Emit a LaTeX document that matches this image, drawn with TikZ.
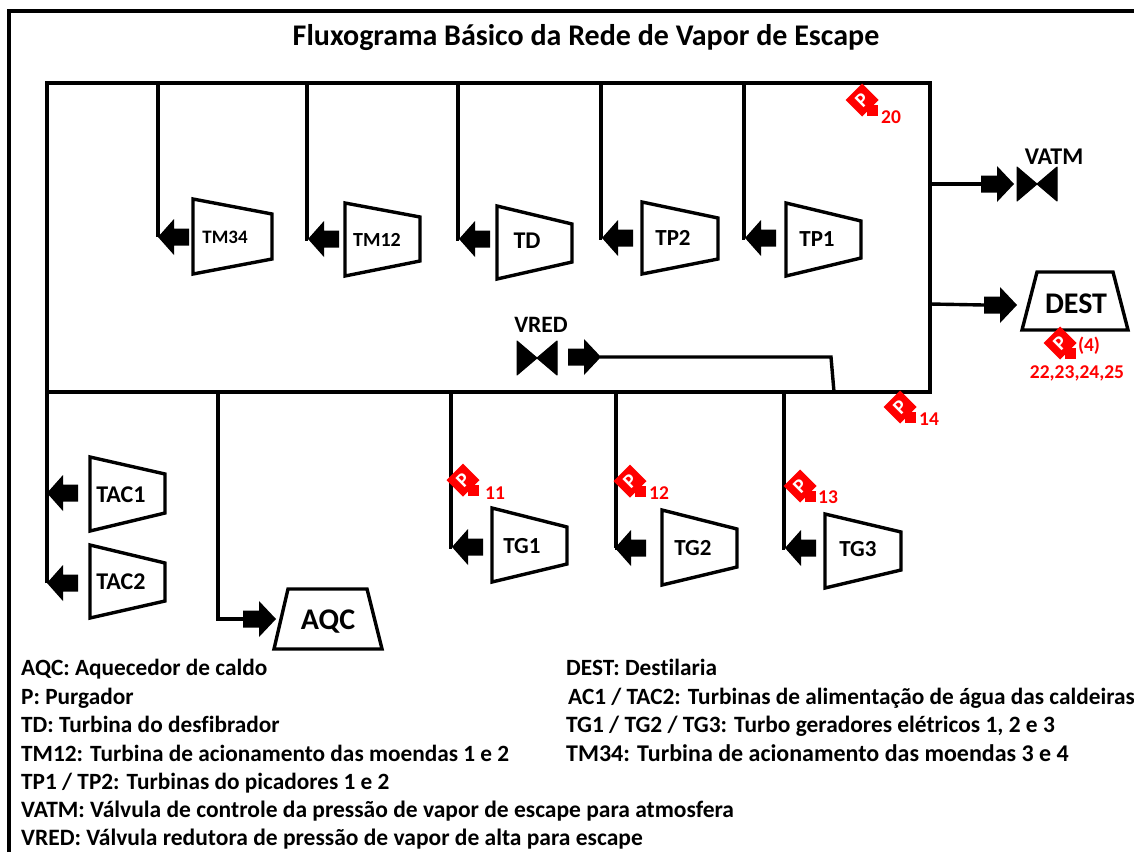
\documentclass[tikz,border=0pt]{standalone}
\usepackage{fontspec}
\setmainfont[Ligatures=NoCommon]{Carlito}
\newcommand{\fs}[1]{\fontsize{#1}{#1}\selectfont\bfseries}
\tikzset{
  pipe/.style={line width=3.4pt,line join=miter,line cap=butt},
  mach/.style={line width=3.4pt,line join=miter,fill=white},
  lbl/.style={inner sep=0pt,text=black},
  legend/.style={inner sep=0pt,anchor=base west,font=\fs{23.3}},
  num/.style={inner sep=0pt,text=red,font=\fs{19.5}}
}
\newcommand{\turb}[9]{% name x1 x2 lt lb rt rb lx ly
  \draw[mach] (#2,#4)--(#3,#6)--(#3,#7)--(#2,#5)--cycle;
  \coordinate (#1) at (#8,#9);}
\newcommand{\blockL}[3]{%
  \coordinate (#1) at (#2,#3);
  \fill ([xshift=31pt,yshift=8.5pt]#1)--([xshift=16pt,yshift=8.5pt]#1)--([xshift=16pt,yshift=18pt]#1)--(#1)--([xshift=16pt,yshift=-18pt]#1)--([xshift=16pt,yshift=-8.5pt]#1)--([xshift=31pt,yshift=-8.5pt]#1)--cycle;}
\newcommand{\blockR}[3]{%
  \coordinate (#1) at (#2,#3);
  \fill ([yshift=8.5pt]#1)--([xshift=16pt,yshift=8.5pt]#1)--([xshift=16pt,yshift=18pt]#1)--([xshift=33pt]#1)--([xshift=16pt,yshift=-18pt]#1)--([xshift=16pt,yshift=-8.5pt]#1)--([yshift=-8.5pt]#1)--cycle;}
\newcommand{\valve}[3]{%
  \coordinate (#1) at (#2,#3);
  \filldraw[line width=1pt,line join=round] ([xshift=-20pt,yshift=17pt]#1)--(#1)--([xshift=-20pt,yshift=-17pt]#1)--cycle;
  \filldraw[line width=1pt,line join=round] ([xshift=20pt,yshift=17pt]#1)--(#1)--([xshift=20pt,yshift=-17pt]#1)--cycle;}
\newcommand{\purg}[3]{%
  \coordinate (#1) at (#2,#3);
  \fill[red] ([yshift=16.5pt]#1)--([xshift=16.5pt]#1)--([yshift=-16.5pt]#1)--([xshift=-16.5pt]#1)--cycle;
  \fill[red] ([xshift=5pt,yshift=-5pt]#1) rectangle ([xshift=16pt,yshift=-16pt]#1);
  \node[inner sep=0pt,text=white,rotate=45,font=\fs{20}] at (#1) {P};}
\begin{document}
\begin{tikzpicture}[x=1pt,y=-1pt]
\useasboundingbox (0,0) rectangle (1134,852);
% outer frame
\coordinate (fa) at (9,852);
\coordinate (fb) at (9,11);
\coordinate (fc) at (1134,11);
\draw[pipe] (fa)--(fb)--(fc);
\node[lbl,font=\fs{30}] (title) at (586,38) {Fluxograma Básico da Rede de Vapor de Escape};
% machines
\turb{tm34}{193}{272}{199}{274}{214}{259}{225}{237}
\node[lbl,font=\fs{19}] (ltm34) at (tm34) {TM34};
\turb{tm12}{345}{420}{203}{276}{217}{261}{377}{240}
\node[lbl,font=\fs{20}] (ltm12) at (tm12) {TM12};
\turb{td}{497}{572}{206}{279}{224}{262}{527}{241}
\node[lbl,font=\fs{24}] (ltd) at (td) {TD};
\turb{tp2}{642}{718}{202}{274}{218}{259}{673}{238}
\node[lbl,font=\fs{23}] (ltp2) at (tp2) {TP2};
\turb{tp1}{786}{861}{203}{276}{221}{258}{817}{239}
\node[lbl,font=\fs{23}] (ltp1) at (tp1) {TP1};
\turb{tac1}{90}{165}{457}{531}{474}{513}{121}{495}
\node[lbl,font=\fs{24}] (ltac1) at (tac1) {TAC1};
\turb{tac2}{90}{165}{545}{618}{563}{601}{121}{582}
\node[lbl,font=\fs{24}] (ltac2) at (tac2) {TAC2};
\turb{tg1}{492}{567}{508}{582}{527}{564}{522}{546}
\node[lbl,font=\fs{23}] (ltg1) at (tg1) {TG1};
\turb{tg2}{662}{737}{510}{585}{529}{567}{693}{548}
\node[lbl,font=\fs{23}] (ltg2) at (tg2) {TG2};
\turb{tg3}{825}{901}{514}{588}{532}{570}{858}{549}
\node[lbl,font=\fs{23}] (ltg3) at (tg3) {TG3};
% AQC, DEST
\draw[mach] (288,589)--(367,589)--(382,649)--(274,649)--cycle;
\node[lbl,font=\fs{30}] (aqc) at (328,622) {AQC};
\draw[mach] (1037,272)--(1113,272)--(1128,330)--(1022,330)--cycle;
\node[lbl,font=\fs{30}] (dest) at (1076,304) {DEST};
% block arrows
\blockL{atm34}{158}{237}\blockL{atm12}{308}{239}\blockL{atd}{459}{239}\blockL{atp2}{602}{238}\blockL{atp1}{745}{238}
\blockL{atac1}{47}{493}\blockL{atac2}{47}{583}
\blockL{atg1}{452}{547}\blockL{atg2}{615}{548}\blockL{atg3}{785}{548}
\blockR{avatm}{981}{184}\blockR{adest}{984}{305}\blockR{avred}{568}{357}\blockR{aaqc}{243}{619}
\coordinate (avredend) at (600,357);
% valves
\valve{vatm}{1037}{184}
\valve{vred}{537}{358}
\node[lbl,font=\fs{24}] (lvatm) at (1054,157) {VATM};
\node[lbl,font=\fs{23.5}] (lvred) at (541,325) {VRED};
% main header
\coordinate (tl) at (47,83);\coordinate (tr) at (930,83);\coordinate (br) at (930,392);\coordinate (bl) at (47,392);
\draw[pipe] (atac2)--(tl)--(tr)--(br)--(bl);
\draw[pipe] (158,83)--(atm34);
\draw[pipe] (307,83)--(307,239)--(atm12);
\draw[pipe] (458,83)--(458,239)--(atd);
\draw[pipe] (601,83)--(601,238)--(atp2);
\draw[pipe] (744,83)--(744,238)--(atp1);
\draw[pipe] (451,392)--(451,547)--(atg1);
\draw[pipe] (616,392)--(616,548)--(atg2);
\draw[pipe] (784,392)--(784,548)--(atg3);
\draw[pipe] (218,392)--(218,619)--(aaqc);
\draw[pipe] (930,184)--(avatm);
\draw[pipe] (930,304)--(adest);
\coordinate (vb) at (831,357);\coordinate (vc) at (834,392);
\draw[pipe] (avredend)--(vb)--(vc);
% purgadores
\purg{p20}{862}{100}\purg{p14}{900}{407}\purg{pd}{1060}{343}\purg{p11}{463}{480}\purg{p12}{630}{481}\purg{p13}{800}{486}
\node[num] (n20) at (891,117) {20};
\node[num] (n14) at (929,419) {14};
\node[num] (n4) at (1089,346) {(4)};
\node[num] (nd) at (1077,373) {22,23,24,25};
\node[num] (n11) at (495,493) {11};
\node[num] (n12) at (659,493) {12};
\node[num] (n13) at (828,497) {13};
% legend
\node[legend] (l1) at (21,675) {AQC: Aquecedor de caldo};
\node[legend] (l2) at (21,704) {P: Purgador};
\node[legend] (l3) at (21,732) {TD: Turbina do desfibrador};
\node[legend] (l4) at (21,761) {TM12: Turbina de acionamento das moendas 1 e 2};
\node[legend] (l5) at (21,789) {TP1 / TP2: Turbinas do picadores 1 e 2};
\node[legend,font=\fs{23.5}] (l6) at (21,817) {VATM: Válvula de controle da pressão de vapor de escape para atmosfera};
\node[legend,font=\fs{23.5}] (l7) at (21,845) {VRED: Válvula redutora de pressão de vapor de alta para escape};
\node[legend] (r1) at (566,675) {DEST: Destilaria};
\node[legend] (r2) at (568,704) {AC1 / TAC2: Turbinas de alimentação de água das caldeiras};
\node[legend,font=\fs{23.4}] (r3) at (566,732) {TG1 / TG2 / TG3: Turbo geradores elétricos 1, 2 e 3};
\node[legend,font=\fs{24}] (r4) at (566,761) {TM34: Turbina de acionamento das moendas 3 e 4};
\end{tikzpicture}
\end{document}
